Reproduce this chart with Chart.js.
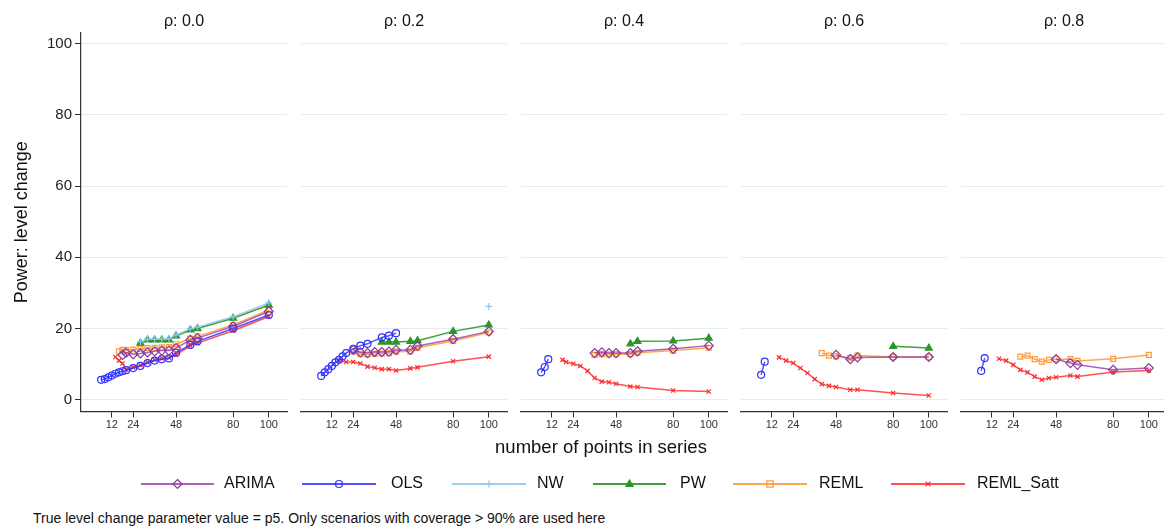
<!DOCTYPE html>
<html lang="en">
<head>
<meta charset="UTF-8">
<title>Power: level change</title>
<script src="https://cdn.jsdelivr.net/npm/chart.js@4"></script>
<style>
  body { margin: 0; width: 1164px; height: 528px; overflow: hidden; background: #fff; position: relative;
         font-family: "Liberation Sans", Arial, sans-serif; color: #111; }
  canvas.panel { position: absolute; top: 0; }
  #xtitle { position: absolute; left: 401px; width: 400px; top: 436px; text-align: center; font-size: 18.5px; }
  #legend { position: absolute; left: 0; top: 466px; }
  #note { position: absolute; left: 33px; top: 510px; font-size: 14px; }
</style>
</head>
<body>
<canvas id="p0" class="panel" width="297" height="440" style="left:0px"></canvas>
<canvas id="p1" class="panel" width="226" height="440" style="left:291px"></canvas>
<canvas id="p2" class="panel" width="226" height="440" style="left:511px"></canvas>
<canvas id="p3" class="panel" width="226" height="440" style="left:731px"></canvas>
<canvas id="p4" class="panel" width="226" height="440" style="left:951px"></canvas>
<div id="xtitle">number of points in series</div>
<canvas id="legend" width="1164" height="36"></canvas>
<div id="note">True level change parameter value = p5. Only scenarios with coverage &gt; 90% are used here</div>

<script>
const _ = null;

// number of points in series (shared grid for every panel)
const nPoints = [6, 8, 10, 12, 14, 16, 18, 20, 24, 28, 32, 36, 40, 44, 48, 56, 60, 80, 100];
const xTicks = [12, 24, 48, 80, 100];
const yTicks = [0, 20, 40, 60, 80, 100];
const rhoLabels = ['ρ: 0.0', 'ρ: 0.2', 'ρ: 0.4', 'ρ: 0.6', 'ρ: 0.8'];
const seriesNames = ['ARIMA', 'OLS', 'NW', 'PW', 'REML', 'REML_Satt'];

// rho = 0.0
const arima00 = [_, _, _, _, _, _, 12.6, 13.2, 12.8, 13.0, 13.3, 13.6, 13.8, 13.8, 14.5, 16.8, 17.3, 20.6, 24.8];
const ols00   = [5.6, 5.8, 6.3, 6.8, 7.3, 7.7, 8.0, 8.3, 8.9, 9.5, 10.3, 11.0, 11.4, 11.6, 13.2, 15.4, 16.4, 20.0, 23.8];
const nw00    = [_, _, _, _, _, _, _, _, _, 16.3, 17.0, 17.0, 17.0, 17.1, 18.2, 19.9, 20.4, 23.3, 27.2];
const pw00    = [_, _, _, _, _, _, _, _, _, 15.9, 16.8, 16.8, 16.8, 16.8, 17.9, 19.6, 20.0, 22.9, 26.6];
const reml00  = [_, _, _, _, _, 13.6, 14.0, 14.0, 14.1, 14.3, 14.5, 14.6, 14.7, 14.8, 15.6, 17.2, 17.8, 21.0, 25.2];
const satt00  = [_, _, _, _, 12.0, 11.0, 10.2, 8.5, 9.1, 9.7, 10.5, 11.2, 11.6, 11.8, 12.6, 15.1, 15.9, 19.4, 23.4];

// rho = 0.2
const arima02 = [_, _, _, _, _, _, _, _, 14.0, 13.3, 13.1, 13.4, 13.4, 13.5, 14.0, 14.0, 15.1, 17.0, 19.2];
const ols02   = [6.7, 7.7, 8.6, 9.5, 10.5, 11.2, 12.2, 13.1, 14.3, 15.2, 15.7, _, 17.5, 18.0, 18.7, _, _, _, _];
const nw02    = [_, _, _, _, _, _, _, _, _, _, _, _, _, _, _, _, _, _, 26.2];
const pw02    = [_, _, _, _, _, _, _, _, _, _, _, _, 16.2, 16.2, 16.2, 16.4, 16.6, 19.2, 21.0];
const reml02  = [_, _, _, _, _, _, _, _, 13.6, 12.8, 12.7, 12.9, 13.0, 13.1, 13.5, 13.6, 14.6, 16.5, 18.9];
const satt02  = [_, _, _, _, _, 11.0, _, 10.6, 10.6, 10.2, 9.3, 9.0, 8.6, 8.6, 8.2, 8.8, 9.1, 10.8, 12.1];

// rho = 0.4
const arima04 = [_, _, _, _, _, _, _, _, _, _, _, 13.1, 13.3, 13.1, 13.1, 13.1, 13.6, 14.3, 15.2];
const ols04   = [7.7, 9.2, 11.4, _, _, _, _, _, _, _, _, _, _, _, _, _, _, _, _];
const nw04    = [];
const pw04    = [_, _, _, _, _, _, _, _, _, _, _, _, _, _, _, 15.7, 16.4, 16.5, 17.3];
const reml04  = [_, _, _, _, _, _, _, _, _, _, _, 12.6, 12.8, 12.7, 12.8, 12.8, 13.2, 13.8, 14.6];
const satt04  = [_, _, _, _, _, _, 11.2, 10.6, 10.1, 9.5, 8.1, 6.1, 5.1, 4.9, 4.5, 3.7, 3.6, 2.6, 2.3];

// rho = 0.6
const arima06 = [_, _, _, _, _, _, _, _, _, _, _, _, _, _, 12.6, 11.4, 11.9, 12.0, 12.0];
const ols06   = [7.0, 10.7, _, _, _, _, _, _, _, _, _, _, _, _, _, _, _, _, _];
const nw06    = [];
const pw06    = [_, _, _, _, _, _, _, _, _, _, _, _, _, _, _, _, _, 15.0, 14.5];
const reml06  = [_, _, _, _, _, _, _, _, _, _, _, _, 13.1, 12.4, 12.2, 11.8, 12.4, 12.0, 12.0];
const satt06  = [_, _, _, _, _, 11.9, _, 11.0, 10.3, 8.9, 7.5, 5.8, 4.4, 3.9, 3.6, 2.8, 2.8, 1.9, 1.2];

// rho = 0.8
const arima08 = [_, _, _, _, _, _, _, _, _, _, _, _, _, _, 11.4, 10.3, 9.8, 8.4, 8.9];
const ols08   = [8.1, 11.7, _, _, _, _, _, _, _, _, _, _, _, _, _, _, _, _, _];
const nw08    = [];
const pw08    = [];
const reml08  = [_, _, _, _, _, _, _, _, _, 12.1, 12.4, 11.4, 10.7, 11.2, 11.4, 11.4, 10.9, 11.5, 12.6];
const satt08  = [_, _, _, _, _, 11.5, _, 11.0, 9.8, 8.4, 7.7, 6.5, 5.6, 6.1, 6.3, 6.8, 6.5, 7.8, 8.2];

const panels = [
  [arima00, ols00, nw00, pw00, reml00, satt00],
  [arima02, ols02, nw02, pw02, reml02, satt02],
  [arima04, ols04, nw04, pw04, reml04, satt04],
  [arima06, ols06, nw06, pw06, reml06, satt06],
  [arima08, ols08, nw08, pw08, reml08, satt08]
];

// look of each series, same order as seriesNames
const looks = [
  { line: 'rgba(140,50,160,0.75)', point: '#8a3a9e', style: 'rectRot', r: 4.5, fill: 'rgba(255,255,255,0)' },
  { line: 'rgba(50,50,255,0.85)', point: '#3030ff', style: 'circle', r: 3.5, fill: 'rgba(255,255,255,0)' },
  { line: 'rgba(150,200,235,0.9)', point: '#8cc4ee', style: 'cross', r: 3.5, fill: 'rgba(255,255,255,0)' },
  { line: 'rgba(40,150,40,0.9)', point: '#2a962a', style: 'triangle', r: 4, fill: '#2a962a' },
  { line: 'rgba(255,150,50,0.85)', point: '#ff9a3c', style: 'rect', r: 3.5, fill: 'rgba(255,255,255,0)' },
  { line: 'rgba(255,50,50,0.85)', point: '#ff2a2a', style: 'crossRot', r: 3, fill: 'rgba(255,255,255,0)' }
];

function toPoints(vals) {
  return nPoints.map((n, i) => ({ x: n, y: vals[i] })).filter(p => p.y !== null && p.y !== undefined);
}

const panelTitle = {
  id: 'panelTitle',
  afterDraw(chart, args, opts) {
    const { ctx, chartArea } = chart;
    ctx.save();
    ctx.font = '16px "Liberation Sans", Arial, sans-serif';
    ctx.fillStyle = '#111';
    ctx.textAlign = 'center';
    ctx.textBaseline = 'middle';
    ctx.fillText(opts.text, (chartArea.left + chartArea.right) / 2, 22);
    ctx.restore();
  }
};

panels.forEach((series, idx) => {
  const first = idx === 0;
  new Chart(document.getElementById('p' + idx), {
    type: 'line',
    data: {
      datasets: series.map((vals, k) => ({
        label: seriesNames[k],
        data: toPoints(vals),
        borderColor: looks[k].line,
        borderWidth: 1.5,
        pointStyle: looks[k].style,
        pointRadius: looks[k].r,
        pointBorderColor: looks[k].point,
        pointBackgroundColor: looks[k].fill,
        pointBorderWidth: 1.2,
        tension: 0,
        fill: false
      }))
    },
    options: {
      responsive: false,
      animation: false,
      events: [],
      layout: { padding: { top: 33, right: 10, bottom: 0, left: first ? 0 : 10 } },
      plugins: {
        legend: { display: false },
        tooltip: { enabled: false },
        panelTitle: { text: rhoLabels[idx] }
      },
      scales: {
        x: {
          type: 'linear', min: -5.3, max: 110.2,
          afterBuildTicks: s => { s.ticks = xTicks.map(v => ({ value: v })); },
          afterFit: s => { s.height = 28.5; },
          ticks: { color: '#333', font: { size: 11 }, padding: 1, maxRotation: 0, autoSkip: false },
          grid: { drawOnChartArea: false, tickLength: 6, color: '#333', tickColor: '#333' },
          border: { color: '#333', width: 1.2 }
        },
        y: {
          min: -3.3, max: 103,
          afterBuildTicks: s => { s.ticks = yTicks.map(v => ({ value: v })); },
          afterFit: s => { s.width = first ? 81 : 0; },
          ticks: { display: first, color: '#222', font: { size: 15 }, padding: 3 },
          grid: { color: '#e4ecf1', tickColor: '#333', tickLength: 6, drawTicks: first },
          border: { display: first, color: '#333', width: 1.2 },
          title: {
            display: first, text: 'Power: level change', color: '#111',
            font: { size: 18 }, padding: { top: 11, bottom: 0 }
          }
        }
      }
    },
    plugins: [panelTitle]
  });
});

// legend row
const legendPos = [
  { x1: 141, x2: 214, tx: 224 },
  { x1: 302, x2: 376, tx: 391 },
  { x1: 452, x2: 526, tx: 537 },
  { x1: 593, x2: 666, tx: 680 },
  { x1: 733, x2: 807, tx: 819 },
  { x1: 891, x2: 965, tx: 977 }
];

function drawMarker(ctx, look, x, y) {
  const r = look.r;
  ctx.strokeStyle = look.point;
  ctx.fillStyle = look.fill;
  ctx.lineWidth = 1.2;
  ctx.beginPath();
  if (look.style === 'circle') {
    ctx.arc(x, y, r, 0, Math.PI * 2);
  } else if (look.style === 'rectRot') {
    ctx.moveTo(x, y - r); ctx.lineTo(x + r, y); ctx.lineTo(x, y + r); ctx.lineTo(x - r, y); ctx.closePath();
  } else if (look.style === 'rect') {
    const s = r * 0.9;
    ctx.rect(x - s, y - s, 2 * s, 2 * s);
  } else if (look.style === 'triangle') {
    ctx.moveTo(x, y - r); ctx.lineTo(x + r * 0.9, y + r * 0.6); ctx.lineTo(x - r * 0.9, y + r * 0.6); ctx.closePath();
  } else if (look.style === 'cross') {
    ctx.moveTo(x - r, y); ctx.lineTo(x + r, y); ctx.moveTo(x, y - r); ctx.lineTo(x, y + r);
  } else {
    const s = r * 0.8;
    ctx.moveTo(x - s, y - s); ctx.lineTo(x + s, y + s); ctx.moveTo(x + s, y - s); ctx.lineTo(x - s, y + s);
  }
  ctx.fill();
  ctx.stroke();
}

const lg = document.getElementById('legend').getContext('2d');
const ly = 18;
lg.font = '16px "Liberation Sans", Arial, sans-serif';
lg.textBaseline = 'middle';
seriesNames.forEach((name, k) => {
  const p = legendPos[k];
  lg.strokeStyle = looks[k].line;
  lg.lineWidth = 2;
  lg.beginPath();
  lg.moveTo(p.x1, ly);
  lg.lineTo(p.x2, ly);
  lg.stroke();
  drawMarker(lg, looks[k], (p.x1 + p.x2) / 2, ly);
  lg.fillStyle = '#111';
  lg.fillText(name, p.tx, ly);
});
</script>
</body>
</html>
